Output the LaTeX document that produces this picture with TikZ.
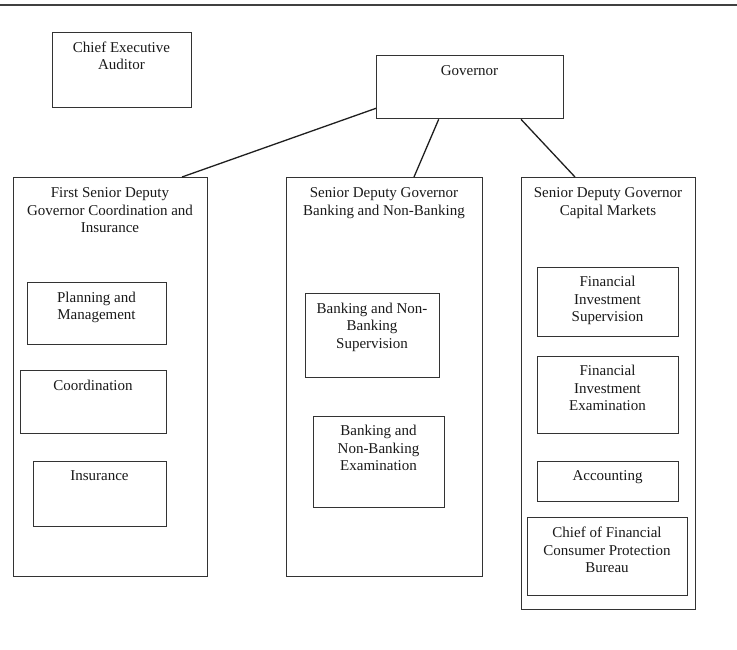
\documentclass[tikz,border=0pt]{standalone}
\usepackage{fontspec}
\setmainfont{Liberation Serif}
\begin{document}
\begin{tikzpicture}[x=1pt,y=-1pt,
  box/.style={draw=black!80, line width=1.3pt, rectangle, inner sep=0pt, anchor=north west},
  txt/.style={inner sep=0pt, anchor=north, align=center, text=black!90, font=\fontsize{15}{17.5}\selectfont},
  conn/.style={draw=black!88, line width=1.3pt}]
\useasboundingbox (0,0) rectangle (737,649);
\draw[black!75, line width=1.8pt] (0,5.3) -- (737,5.3);
% boxes
\node[box, minimum width=139pt, minimum height=75pt] (cea) at (52,32) {};
\node[txt] (ceat) at (121.5,41.5) {Chief Executive\\Auditor};
\node[box, minimum width=187pt, minimum height=63pt] (gov) at (376,55) {};
\node[txt] (govt) at (469.5,65.5) {Governor};
\node[box, minimum width=194pt, minimum height=399pt] (first) at (13,177) {};
\node[txt] (firstt) at (110,187.5) {First Senior Deputy\\Governor Coordination and\\Insurance};
\node[box, minimum width=139pt, minimum height=62pt] (plan) at (27,282) {};
\node[txt] (plant) at (96.5,291.5) {Planning and\\Management};
\node[box, minimum width=146pt, minimum height=63pt] (coord) at (20,370) {};
\node[txt] (coordt) at (93,380) {Coordination};
\node[box, minimum width=133pt, minimum height=65pt] (ins) at (33,461) {};
\node[txt] (inst) at (99.5,470.5) {Insurance};
\node[box, minimum width=196pt, minimum height=399pt] (sdgb) at (286,177) {};
\node[txt] (sdgbt) at (384,187.5) {Senior Deputy Governor\\Banking and Non-Banking};
\node[box, minimum width=134pt, minimum height=84pt] (bnbs) at (305,293) {};
\node[txt] (bnbst) at (372,302.5) {Banking and Non-\\Banking\\Supervision};
\node[box, minimum width=131pt, minimum height=91pt] (bnbe) at (313,416) {};
\node[txt] (bnbet) at (378.5,425) {Banking and\\Non-Banking\\Examination};
\node[box, minimum width=174pt, minimum height=432pt] (sdgc) at (521,177) {};
\node[txt] (sdgct) at (608,187.5) {Senior Deputy Governor\\Capital Markets};
\node[box, minimum width=141pt, minimum height=69pt] (fis) at (537,267) {};
\node[txt] (fist) at (607.5,276) {Financial\\Investment\\Supervision};
\node[box, minimum width=141pt, minimum height=77pt] (fie) at (537,356) {};
\node[txt] (fiet) at (607.5,365) {Financial\\Investment\\Examination};
\node[box, minimum width=141pt, minimum height=40pt] (acc) at (537,461) {};
\node[txt] (acct) at (607.5,470.5) {Accounting};
\node[box, minimum width=160pt, minimum height=78pt] (cfc) at (527,517) {};
\node[txt] (cfct) at (607,527) {Chief of Financial\\Consumer Protection\\Bureau};
% connectors
\draw[conn] ([yshift=11pt]gov.south west) -- ([xshift=169pt]first.north west);
\draw[conn] ([xshift=62.7pt]gov.south west) -- ([xshift=128pt]sdgb.north west);
\draw[conn] ([xshift=145pt]gov.south west) -- ([xshift=54pt]sdgc.north west);
\end{tikzpicture}
\end{document}
